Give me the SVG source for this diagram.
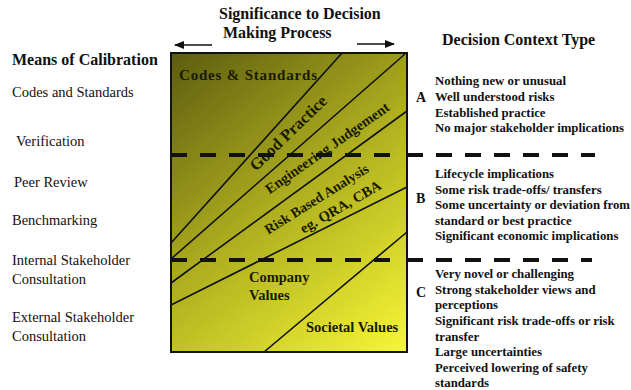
<svg xmlns="http://www.w3.org/2000/svg" width="631" height="390" viewBox="0 0 631 390">
<style>
.t{font-family:"Liberation Serif","Times New Roman",serif;fill:#111}
.b{font-weight:bold}
.h{font-size:16px;font-weight:bold}
.l{font-size:14.5px}
.r{font-size:12.8px;font-weight:bold}
.in{font-weight:bold;fill:#1a1a00}
.ln{stroke:#111;stroke-width:1.6;fill:none}
.dash{stroke:#111;stroke-width:4;stroke-dasharray:16 13;fill:none}
.arr{stroke:#111;stroke-width:1.5;fill:none}
</style>
<defs>
<linearGradient id="g" gradientUnits="userSpaceOnUse" x1="171" y1="53" x2="407" y2="352">
<stop offset="0" stop-color="#5c5c10"/>
<stop offset="0.5" stop-color="#b0b020"/>
<stop offset="1" stop-color="#f7f736"/>
</linearGradient>
<marker id="ah" viewBox="0 0 10 8" refX="9" refY="4" markerWidth="10" markerHeight="8" markerUnits="userSpaceOnUse" orient="auto">
<path d="M0,0 L10,4 L0,8 Z" fill="#111"/>
</marker>
</defs>
<rect width="631" height="390" fill="#fff"/>

<g id="title">
<text class="t h" x="219" y="19">Significance to Decision</text>
<text class="t h" x="223" y="38">Making Process</text>
</g>

<g id="connectors">
<line class="arr" x1="212" y1="45" x2="175" y2="45" marker-end="url(#ah)"/>
<line class="arr" x1="357" y1="44" x2="394" y2="44" marker-end="url(#ah)"/>
</g>

<g id="chart">
<rect x="171" y="53" width="236" height="299" fill="url(#g)" stroke="#111" stroke-width="2"/>
<line class="ln" x1="342" y1="53" x2="171" y2="243"/>
<line class="ln" x1="405" y1="54" x2="171" y2="259"/>
<line class="ln" x1="407" y1="111" x2="171" y2="283"/>
<line class="ln" x1="407" y1="187" x2="171" y2="305"/>
<line class="ln" x1="407" y1="232" x2="264" y2="352"/>
<text class="t in" x="179" y="80" font-size="15" textLength="138">Codes &amp; Standards</text>
<text class="t in" font-size="16.5" text-anchor="middle" transform="translate(292,137) rotate(-44)">Good Practice</text>
<text class="t in" font-size="14.5" text-anchor="middle" transform="translate(330,152) rotate(-35)">Engineering Judgement</text>
<text class="t in" font-size="14" text-anchor="middle" transform="translate(319,203) rotate(-32)">Risk Based Analysis</text>
<text class="t in" font-size="14.5" text-anchor="middle" transform="translate(343,211) rotate(-30)">eg. QRA, CBA</text>
<text class="t in" x="249" y="282" font-size="14.5">Company</text>
<text class="t in" x="249" y="300" font-size="14.5">Values</text>
<text class="t in" x="306" y="332" font-size="14.5">Societal Values</text>
</g>

<g id="dividers">
<line class="dash" x1="171" y1="155" x2="400" y2="155"/>
<line class="dash" x1="407" y1="155" x2="595" y2="155"/>
<line class="dash" x1="171" y1="260" x2="400" y2="260"/>
<line class="dash" x1="407" y1="260" x2="592" y2="260"/>
</g>

<g id="calibration">
<text class="t h" x="12" y="65">Means of Calibration</text>
<text class="t l" x="12" y="97">Codes and Standards</text>
<text class="t l" x="16" y="146">Verification</text>
<text class="t l" x="14" y="187">Peer Review</text>
<text class="t l" x="12" y="225">Benchmarking</text>
<text class="t l" x="12" y="265">Internal Stakeholder</text>
<text class="t l" x="12" y="284">Consultation</text>
<text class="t l" x="12" y="322">External Stakeholder</text>
<text class="t l" x="12" y="341">Consultation</text>
</g>

<g id="context-header">
<text class="t h" x="442" y="45">Decision Context Type</text>
</g>

<g id="context-A">
<text class="t b" x="416" y="102" font-size="14">A</text>
<text class="t r" x="435" y="85">Nothing new or unusual</text>
<text class="t r" x="435" y="101">Well understood risks</text>
<text class="t r" x="435" y="117">Established practice</text>
<text class="t r" x="435" y="132">No major stakeholder implications</text>
</g>

<g id="context-B">
<text class="t b" x="416" y="203" font-size="14">B</text>
<text class="t r" x="435" y="178">Lifecycle implications</text>
<text class="t r" x="435" y="194">Some risk trade-offs/ transfers</text>
<text class="t r" x="435" y="209">Some uncertainty or deviation from</text>
<text class="t r" x="435" y="225">standard or best practice</text>
<text class="t r" x="435" y="240">Significant economic implications</text>
</g>

<g id="context-C">
<text class="t b" x="416" y="297" font-size="14">C</text>
<text class="t r" x="435" y="278">Very novel or challenging</text>
<text class="t r" x="435" y="294">Strong stakeholder views and</text>
<text class="t r" x="435" y="309">perceptions</text>
<text class="t r" x="435" y="325">Significant risk trade-offs  or risk</text>
<text class="t r" x="435" y="341">transfer</text>
<text class="t r" x="435" y="356">Large uncertainties</text>
<text class="t r" x="435" y="372">Perceived lowering of safety</text>
<text class="t r" x="435" y="387">standards</text>
</g>
</svg>
